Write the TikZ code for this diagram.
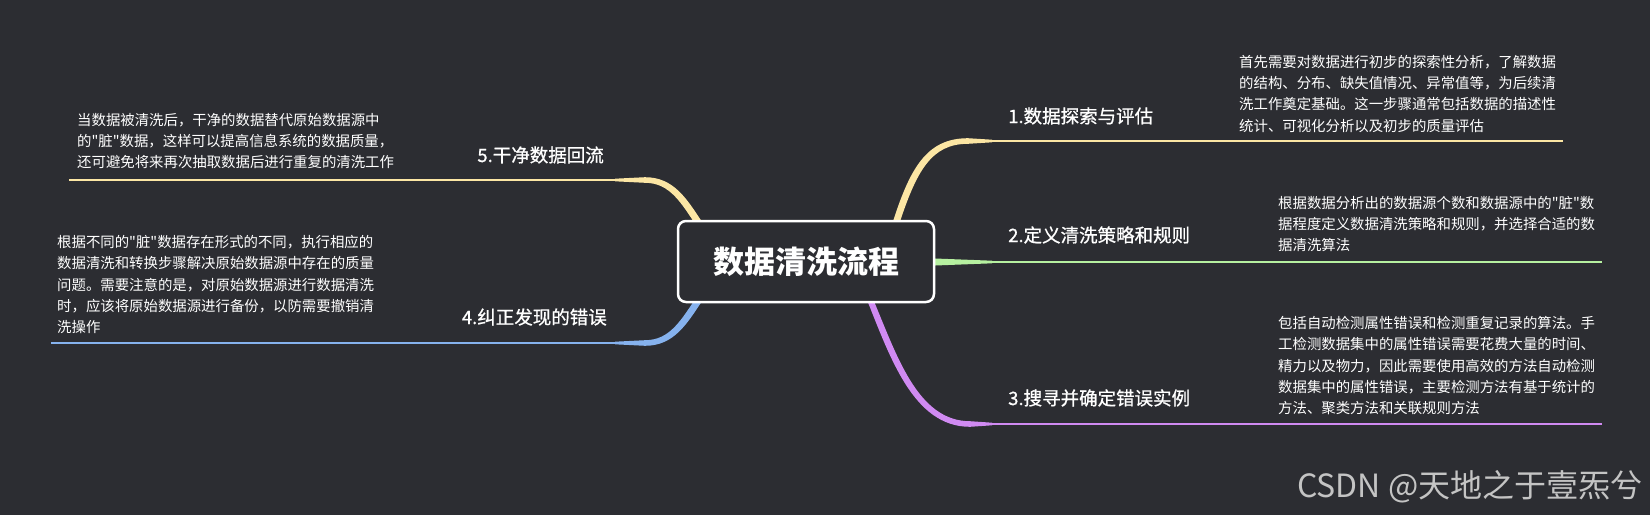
\documentclass[tikz,border=0pt]{standalone}
\usepackage{fontspec}
\newfontfamily\cjk{Noto Sans CJK SC}
\newfontfamily\cjkmed{Noto Sans CJK SC}[FakeBold=0.8]
\definecolor{bg}{HTML}{2C2D32}
\definecolor{cyel}{HTML}{FCE6A4}
\definecolor{cgrn}{HTML}{B6F0A0}
\definecolor{cpur}{HTML}{D08AF2}
\definecolor{cblu}{HTML}{86B2EE}
\definecolor{wm}{HTML}{C4C4C4}
\tikzset{
  desc/.style={font=\cjk\fontsize{14.4}{21.3}\selectfont, text=white, align=left, inner sep=0pt, anchor=north west},
  lab/.style={font=\cjkmed\fontsize{18.5}{22}\selectfont, text=white, inner sep=0pt},
  root/.style={draw=white, line width=2.5pt, fill=bg, rounded corners=8pt, minimum width=256pt, minimum height=81pt, text=white, font=\cjk\bfseries\fontsize{31}{36}\selectfont},
  thin/.style={line width=2.6pt},
}
\begin{document}
\begin{tikzpicture}[x=1pt,y=-1pt]
\useasboundingbox (0,0) rectangle (1650,515);
\fill[bg] (0,0) rectangle (1650,515);

% end points of the branch lines
\coordinate (e1) at (1563,141);
\coordinate (e2) at (1602,262);
\coordinate (e3) at (1602,424);
\coordinate (e5) at (69,180);
\coordinate (e4) at (51,343);
\coordinate (t1) at (990,141);
\coordinate (t2) at (990,262);
\coordinate (t3) at (990,424);
\coordinate (t5) at (617,180);
\coordinate (t4) at (617,343);

% tapered branches
\fill[cyel] (891.5,226) .. controls (909.5,169) and (926,138.2) .. (968,138.2) -- (992,139.7)
  -- (992,142.3) -- (968,143.8) .. controls (931,143.8) and (916.5,171) .. (898.5,226) -- cycle;
\fill[cgrn] (930,258.3) -- (992,260.7) -- (992,263.3) -- (930,265.7) -- cycle;
\fill[cpur] (865.8,297) .. controls (889.8,356.4) and (913,426.8) .. (970,426.8) -- (992,425.3)
  -- (992,422.7) -- (970,421.2) .. controls (917,421.2) and (896.2,353.6) .. (872.2,297) -- cycle;
\fill[cyel] (702.8,223) .. controls (686.8,199) and (674,177.2) .. (645,177.2) -- (615,178.7)
  -- (615,181.3) -- (645,182.8) .. controls (670,182.8) and (681.2,203) .. (697.2,227) -- cycle;
\fill[cblu] (702.8,300) .. controls (686.8,324) and (674,345.8) .. (645,345.8) -- (615,344.3)
  -- (615,341.7) -- (645,340.2) .. controls (670,340.2) and (681.2,320) .. (697.2,296) -- cycle;

% thin lines under labels and texts
\draw[thin, cyel] (t1) -- (e1);
\draw[thin, cgrn] (t2) -- (e2);
\draw[thin, cpur] (t3) -- (e3);
\draw[thin, cyel] (t5) -- (e5);
\draw[thin, cblu] (t4) -- (e4);

% central node
\node[root] (root) at (806,261.5) {数据清洗流程};

% labels
\node[lab, anchor=west] (l1) at (1008,116) {1.数据探索与评估};
\node[lab, anchor=west] (l2) at (1008,235) {2.定义清洗策略和规则};
\node[lab, anchor=west] (l3) at (1008,398) {3.搜寻并确定错误实例};
\node[lab, anchor=east] (l5) at (604,155) {5.干净数据回流};
\node[lab, anchor=east] (l4) at (607,317) {4.纠正发现的错误};

% descriptions
\node[desc] (d1) at (1239,55) {首先需要对数据进行初步的探索性分析，了解数据\\的结构、分布、缺失值情况、异常值等，为后续清\\洗工作奠定基础。这一步骤通常包括数据的描述性\\统计、可视化分析以及初步的质量评估};
\node[desc] (d2) at (1278,196) {根据数据分析出的数据源个数和数据源中的"脏"数\\据程度定义数据清洗策略和规则，并选择合适的数\\据清洗算法};
\node[desc] (d3) at (1278,316) {包括自动检测属性错误和检测重复记录的算法。手\\工检测数据集中的属性错误需要花费大量的时间、\\精力以及物力，因此需要使用高效的方法自动检测\\数据集中的属性错误，主要检测方法有基于统计的\\方法、聚类方法和关联规则方法};
\node[desc] (d5) at (77,113) {当数据被清洗后，干净的数据替代原始数据源中\\的"脏"数据，这样可以提高信息系统的数据质量，\\还可避免将来再次抽取数据后进行重复的清洗工作};
\node[desc] (d4) at (57,235) {根据不同的"脏"数据存在形式的不同，执行相应的\\数据清洗和转换步骤解决原始数据源中存在的质量\\问题。需要注意的是，对原始数据源进行数据清洗\\时，应该将原始数据源进行备份，以防需要撤销清\\洗操作};

% watermark
\node[font=\cjk\fontsize{32}{36}\selectfont, text=wm, inner sep=0pt, anchor=west] (wm) at (1297,487) {CSDN @天地之于壹炁兮};
\end{tikzpicture}
\end{document}
